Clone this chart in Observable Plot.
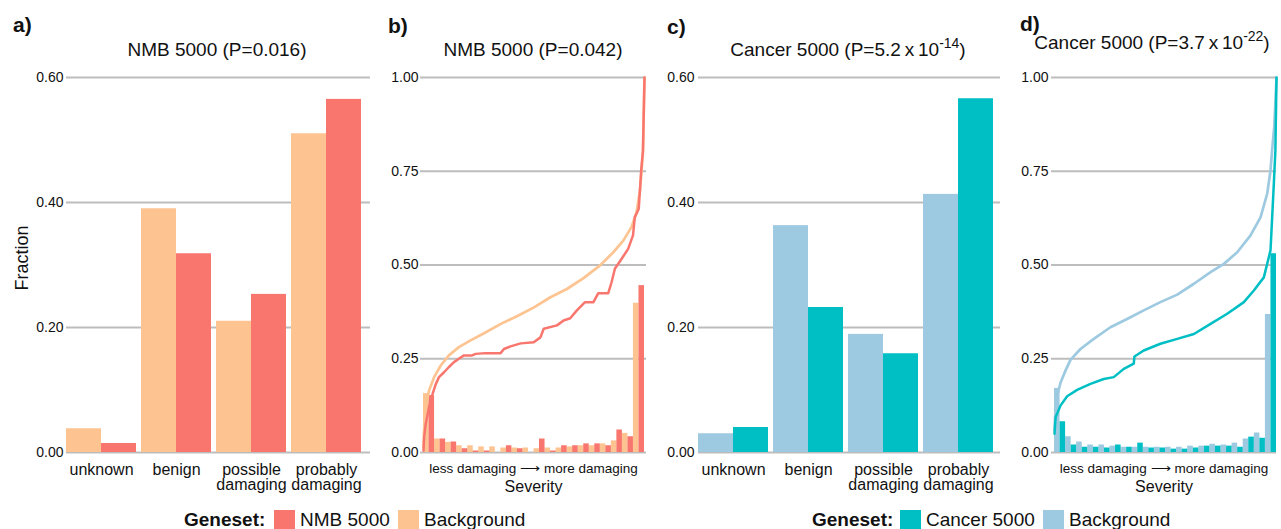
<!DOCTYPE html>
<html><head><meta charset="utf-8">
<script src="https://cdn.jsdelivr.net/npm/d3@7"></script>
<script src="https://cdn.jsdelivr.net/npm/@observablehq/plot@0.6"></script>
<style>
html,body{margin:0;padding:0;background:#fff;}
#root{position:relative;width:1281px;height:529px;overflow:hidden;font-family:"Liberation Sans",Arial,sans-serif;color:#111;}
.abs{position:absolute;white-space:nowrap;}
.plab{font-weight:bold;font-size:21px;line-height:21px;}
.title{font-size:19px;line-height:19px;text-align:center;width:300px;}
.title sup{font-size:14px;line-height:0;vertical-align:baseline;position:relative;top:-8px;}
.leg{font-size:19px;line-height:19px;}
.sw{width:21px;height:21px;}
.ylab{font-size:18px;line-height:20px;width:100px;height:20px;text-align:center;transform:rotate(-90deg);}
svg{overflow:visible;}
</style></head>
<body><div id="root"></div>
<script>
// ---------- data ----------
const categories = ["unknown", "benign", "possible\ndamaging", "probably\ndamaging"];
const nmbFrac    = [0.0144, 0.318, 0.253, 0.565];
const bgFracA    = [0.038, 0.390, 0.210, 0.510];
const cancerFrac = [0.040, 0.232, 0.158, 0.566];
const bgFracC    = [0.030, 0.363, 0.189, 0.413];
const fracTicks  = [0, 0.2, 0.4, 0.6];
const cumTicks   = [0, 0.25, 0.5, 0.75, 1];

// 20 severity bins (fraction of variants)
const nmbHist    = [0.152,0.036,0.028,0.010,0.004,0.004,0.000,0.018,0.010,0.000,0.036,0.004,0.018,0.018,0.023,0.023,0.018,0.060,0.042,0.445];
const bgHistB    = [0.157,0.036,0.027,0.018,0.018,0.015,0.015,0.012,0.012,0.012,0.010,0.012,0.012,0.015,0.018,0.018,0.023,0.031,0.051,0.398];
const cancerHist = [0.082,0.020,0.014,0.014,0.012,0.020,0.014,0.025,0.012,0.012,0.009,0.009,0.012,0.017,0.017,0.017,0.014,0.041,0.038,0.530];
const bgHistD    = [0.171,0.042,0.028,0.020,0.020,0.017,0.014,0.014,0.014,0.014,0.014,0.014,0.017,0.017,0.022,0.020,0.025,0.036,0.052,0.368];

// cumulative curves [severity, cumulative fraction]
const nmbCurve = [[0,0.005],[0.003,0.041],[0.010,0.076],[0.025,0.121],[0.041,0.156],[0.056,0.183],[0.070,0.201],[0.093,0.214],[0.115,0.228],[0.138,0.241],[0.160,0.250],[0.183,0.259],[0.220,0.259],[0.236,0.263],[0.280,0.265],[0.349,0.265],[0.364,0.276],[0.394,0.283],[0.440,0.291],[0.499,0.294],[0.529,0.307],[0.544,0.330],[0.604,0.339],[0.634,0.352],[0.664,0.358],[0.694,0.379],[0.731,0.401],[0.769,0.401],[0.791,0.425],[0.836,0.425],[0.851,0.454],[0.866,0.490],[0.896,0.516],[0.926,0.543],[0.948,0.579],[0.956,0.627],[0.974,0.650],[0.985,0.752],[0.993,0.805],[1,1]];
const bgCurveB = [[0,0.014],[0.003,0.067],[0.010,0.121],[0.025,0.165],[0.048,0.201],[0.078,0.232],[0.115,0.259],[0.160,0.281],[0.213,0.299],[0.274,0.318],[0.350,0.343],[0.425,0.364],[0.500,0.387],[0.574,0.414],[0.649,0.436],[0.724,0.465],[0.799,0.499],[0.859,0.534],[0.904,0.565],[0.941,0.601],[0.964,0.641],[0.980,0.700],[0.993,0.800],[1,1]];
const cancerCurve = [[0,0.05],[0.005,0.094],[0.027,0.125],[0.057,0.150],[0.102,0.167],[0.162,0.183],[0.222,0.196],[0.267,0.201],[0.312,0.223],[0.357,0.237],[0.360,0.256],[0.402,0.272],[0.477,0.290],[0.553,0.303],[0.628,0.316],[0.703,0.343],[0.778,0.370],[0.853,0.401],[0.898,0.432],[0.943,0.467],[0.958,0.503],[0.973,0.539],[0.988,0.717],[0.995,0.805],[1,1]];
const bgCurveD = [[0,0.06],[0.005,0.12],[0.012,0.15],[0.027,0.186],[0.050,0.219],[0.072,0.247],[0.117,0.276],[0.177,0.303],[0.252,0.334],[0.327,0.356],[0.402,0.379],[0.477,0.401],[0.553,0.421],[0.628,0.450],[0.703,0.481],[0.763,0.503],[0.823,0.534],[0.883,0.579],[0.928,0.627],[0.958,0.690],[0.973,0.752],[0.980,0.805],[0.990,0.870],[1,1]];

const severityTick = "less damaging \u27F6 more damaging";
const severityLabel = "Severity";
const yLabel = "Fraction";
const legendTitle = "Geneset:";
const seriesNMB = ["NMB 5000", "Background"];
const seriesCancer = ["Cancer 5000", "Background"];

const C_NMB = "#F8766D", C_BG1 = "#FDC491", C_CAN = "#00BFC4", C_BG2 = "#9ECAE1";
const GRID = "#bdbdbd";
const FONT = "'Liberation Sans', Arial, sans-serif";

const root = document.getElementById("root");
function place(el, left, top) { el.style.left = left + "px"; el.style.top = top + "px"; root.appendChild(el); return el; }
function div(cls, html) { const d = document.createElement("div"); d.className = "abs " + cls; d.innerHTML = html; return d; }

const baseStyle = {fontFamily: FONT, fontSize: "14px", color: "#111", background: "transparent", overflow: "visible"};

function barPanel({fg, bg, fgColor, bgColor, width, marginLeft, marginRight, insetRight, tickPadding}) {
  const pad = 5 / 75;
  const rows = categories.map((c, i) => ({c, fg: fg[i], bg: bg[i]}));
  const span = width - marginLeft - marginRight - insetRight;
  const step = span / (categories.length - pad);
  const half = step * (1 - pad) / 2;
  return Plot.plot({
    width, height: 440, marginTop: 17, marginBottom: 48, marginLeft, marginRight,
    style: baseStyle,
    x: {domain: categories, paddingInner: pad, paddingOuter: 0, insetRight, axis: null, round: false},
    y: {domain: [0, 0.6], ticks: fracTicks, tickFormat: d3.format(".2f"), tickSize: 0, tickPadding, label: null},
    marks: [
      Plot.ruleY(fracTicks, {stroke: GRID, strokeWidth: 2}),
      Plot.barY(rows, {x: "c", y: "bg", fill: bgColor, insetRight: half}),
      Plot.barY(rows, {x: "c", y: "fg", fill: fgColor, insetLeft: half}),
      Plot.text(categories, {x: d => d, text: d => d, frameAnchor: "bottom", lineAnchor: "top", dy: 11.6, fontSize: 16, lineHeight: 0.94, fill: "#111"})
    ]
  });
}

function histPanel({fgHist, bgHist, fgCurve, bgCurve, fgColor, bgColor, width, marginLeft, marginRight, insetLeft, insetRight, tickPadding}) {
  const n = fgHist.length;
  const bins = fgHist.map((v, i) => ({i, fg: v, bg: bgHist[i]}));
  return Plot.plot({
    width, height: 440, marginTop: 17, marginBottom: 48, marginLeft, marginRight,
    style: baseStyle,
    x: {domain: [0, 1], insetLeft, insetRight, axis: null},
    y: {domain: [0, 1], ticks: cumTicks, tickFormat: d3.format(".2f"), tickSize: 0, tickPadding, label: null},
    marks: [
      Plot.ruleY(cumTicks, {stroke: GRID, strokeWidth: 2}),
      Plot.rect(bins, {x1: d => d.i / n, x2: d => (d.i + 0.5) / n, y1: 0, y2: "bg", fill: bgColor}),
      Plot.rect(bins, {x1: d => (d.i + 0.5) / n, x2: d => (d.i + 1) / n, y1: 0, y2: "fg", fill: fgColor}),
      Plot.line(bgCurve, {x: d => d[0], y: d => d[1], stroke: bgColor, strokeWidth: 2.7}),
      Plot.line(fgCurve, {x: d => d[0], y: d => d[1], stroke: fgColor, strokeWidth: 2.5}),
      Plot.text([severityTick], {text: d => d, frameAnchor: "bottom", lineAnchor: "top", dy: 11.4, fontSize: 13.5, fill: "#111"}),
      Plot.text([severityLabel], {text: d => d, frameAnchor: "bottom", lineAnchor: "top", dy: 28.3, fontSize: 16, fill: "#111"})
    ]
  });
}

function addPlot(svg, left) {
  const wrap = document.createElement("div");
  wrap.className = "abs";
  wrap.appendChild(svg);
  place(wrap, left, 60);
}

addPlot(barPanel({fg: nmbFrac, bg: bgFracA, fgColor: C_NMB, bgColor: C_BG1, width: 372, marginLeft: 66, marginRight: 2, insetRight: 9, tickPadding: 3}), 0);
addPlot(histPanel({fgHist: nmbHist, bgHist: bgHistB, fgCurve: nmbCurve, bgCurve: bgCurveB, fgColor: C_NMB, bgColor: C_BG1, width: 278, marginLeft: 48, marginRight: 4, insetLeft: 3, insetRight: 2, tickPadding: 2}), 372);
addPlot(barPanel({fg: cancerFrac, bg: bgFracC, fgColor: C_CAN, bgColor: C_BG2, width: 362, marginLeft: 58, marginRight: 2, insetRight: 7, tickPadding: 4}), 640);
addPlot(histPanel({fgHist: cancerHist, bgHist: bgHistD, fgCurve: cancerCurve, bgCurve: bgCurveD, fgColor: C_CAN, bgColor: C_BG2, width: 279, marginLeft: 49, marginRight: 5, insetLeft: 3, insetRight: 0, tickPadding: 3}), 1002);

// panel letters and titles
place(div("plab", "a)"), 13, 14);
place(div("plab", "b)"), 388, 15);
place(div("plab", "c)"), 667, 16);
place(div("plab", "d)"), 1020, 13);
place(div("title", "NMB 5000 (P=0.016)"), 217 - 150, 40);
place(div("title", "NMB 5000 (P=0.042)"), 533 - 150, 40);
place(div("title", "Cancer 5000 (P=5.2\u2009x\u200910<sup>-14</sup>)"), 848 - 150, 40);
place(div("title", "Cancer 5000 (P=3.7\u2009x\u200910<sup>-22</sup>)"), 1152 - 150, 33);
place(div("ylab", yLabel), 22 - 50, 258 - 10);

// legends
function legend(x0, names, colors, offsets) {
  place(div("leg", "<b>" + legendTitle + "</b>"), x0, 510);
  names.forEach((nm, i) => {
    const sw = div("sw", ""); sw.style.background = colors[i];
    place(sw, x0 + offsets[i], 510);
    place(div("leg", nm), x0 + offsets[i] + 26, 510);
  });
}
legend(184, seriesNMB, [C_NMB, C_BG1], [90, 214]);
legend(812, seriesCancer, [C_CAN, C_BG2], [88, 231]);
</script>
</body></html>
